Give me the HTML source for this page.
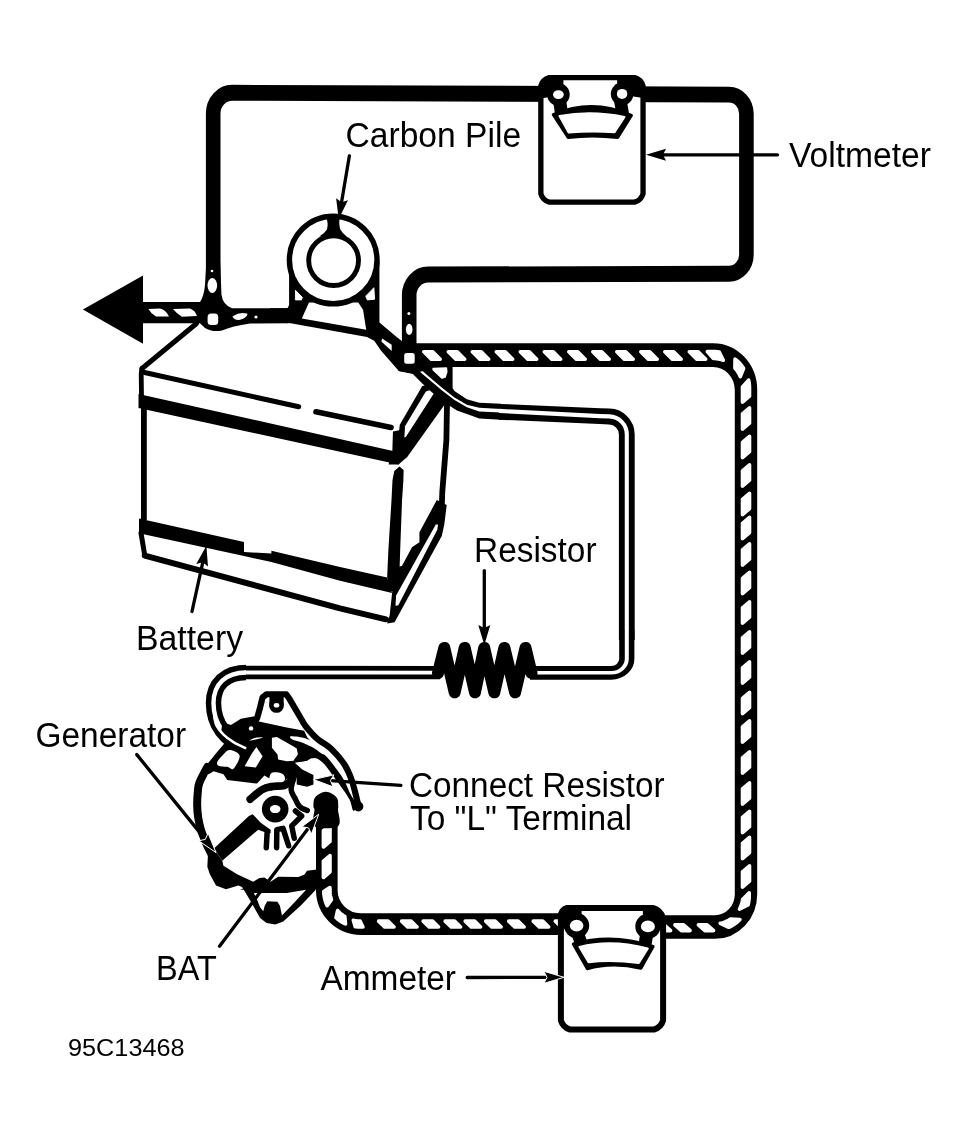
<!DOCTYPE html>
<html lang="en">
<head>
<meta charset="utf-8">
<title>Generator output test connections</title>
<style>
html,body{margin:0;padding:0;background:#fff;}
body{width:967px;height:1132px;overflow:hidden;}
svg{display:block;}
text{font-family:"Liberation Sans",sans-serif;fill:#000;}
.k{fill:#000;stroke:none;}
.w{fill:#fff;stroke:none;}
.l{fill:none;stroke:#000;stroke-linecap:round;stroke-linejoin:round;}
.lb{fill:none;stroke:#000;stroke-linecap:butt;stroke-linejoin:round;}
.lw{fill:none;stroke:#fff;stroke-linecap:round;stroke-linejoin:round;}
.wk{fill:#fff;stroke:#000;stroke-linejoin:round;}
.ws{fill:#fff;stroke:#fff;stroke-linejoin:round;stroke-linecap:round;}
</style>
</head>
<body>
<svg width="967" height="1132" viewBox="0 0 967 1132" shape-rendering="geometricPrecision">
<rect x="0" y="0" width="967" height="1132" fill="#fff"/>
<g id="labels" style="filter:grayscale(1)">
<text x="345.5" y="147.3" font-size="34.2" textLength="175.57" lengthAdjust="spacingAndGlyphs">Carbon Pile</text>
<text x="789" y="167.2" font-size="34.2" textLength="142.01" lengthAdjust="spacingAndGlyphs">Voltmeter</text>
<text x="474" y="562.2" font-size="34.2" textLength="122.6" lengthAdjust="spacingAndGlyphs">Resistor</text>
<text x="136" y="650.3" font-size="34.2" textLength="107.06" lengthAdjust="spacingAndGlyphs">Battery</text>
<text x="35.5" y="747.1" font-size="34.2" textLength="150.56" lengthAdjust="spacingAndGlyphs">Generator</text>
<text x="409" y="796.5" font-size="34.2" textLength="255.52" lengthAdjust="spacingAndGlyphs">Connect Resistor</text>
<text x="410" y="830" font-size="34.2" textLength="222.04" lengthAdjust="spacingAndGlyphs">To &quot;L&quot; Terminal</text>
<text x="156" y="980" font-size="34.2" textLength="60.7" lengthAdjust="spacingAndGlyphs">BAT</text>
<text x="320.5" y="989.6" font-size="34.2" textLength="135.5" lengthAdjust="spacingAndGlyphs">Ammeter</text>
<text x="68" y="1056.2" font-size="24.4" textLength="116.58" lengthAdjust="spacingAndGlyphs">95C13468</text>
</g>
<g id="black-wire">
<path class="lb" transform="scale(1,1.09)" stroke-width="14.6" d="M213.2 275.23 L213.2 104.11 A19 19 0 0 1 232.27 85.11 L728.96 86.82 A17.5 17.5 0 0 1 746.4 104.32 L746.4 233.64 A17.5 17.5 0 0 1 728.94 251.14 L428.15 251.88 A19 19 0 0 0 409.2 270.88 L409.2 321.1"/>
</g>
<g id="striped-wire">
<path class="lb" transform="scale(1,1.06)" stroke-width="22.4" d="M404 334.91 L713 334.91 A33 33 0 0 1 746 367.91 L746 843.53 A31 31 0 0 1 715 874.53 L640 874.53"/>
<path class="ws" stroke-width="3.6" d="M431.3 359.2 L432.78 359.2 L434.27 359.2 L435.75 359.2 L437.23 359.2 L438.72 359.2 L440.2 359.2 L432.7 351.8 L431.22 351.8 L429.73 351.8 L428.25 351.8 L426.77 351.8 L425.28 351.8 L423.8 351.8Z M455.8 359.2 L457.28 359.2 L458.77 359.2 L460.25 359.2 L461.73 359.2 L463.22 359.2 L464.7 359.2 L457.2 351.8 L455.72 351.8 L454.23 351.8 L452.75 351.8 L451.27 351.8 L449.78 351.8 L448.3 351.8Z M479.8 359.2 L481.28 359.2 L482.77 359.2 L484.25 359.2 L485.73 359.2 L487.22 359.2 L488.7 359.2 L481.2 351.8 L479.72 351.8 L478.23 351.8 L476.75 351.8 L475.27 351.8 L473.78 351.8 L472.3 351.8Z M503.8 359.2 L505.28 359.2 L506.77 359.2 L508.25 359.2 L509.73 359.2 L511.22 359.2 L512.7 359.2 L505.2 351.8 L503.72 351.8 L502.23 351.8 L500.75 351.8 L499.27 351.8 L497.78 351.8 L496.3 351.8Z M527.8 359.2 L529.28 359.2 L530.77 359.2 L532.25 359.2 L533.73 359.2 L535.22 359.2 L536.7 359.2 L529.2 351.8 L527.72 351.8 L526.23 351.8 L524.75 351.8 L523.27 351.8 L521.78 351.8 L520.3 351.8Z M551.8 359.2 L553.28 359.2 L554.77 359.2 L556.25 359.2 L557.73 359.2 L559.22 359.2 L560.7 359.2 L553.2 351.8 L551.72 351.8 L550.23 351.8 L548.75 351.8 L547.27 351.8 L545.78 351.8 L544.3 351.8Z M576.3 359.2 L577.78 359.2 L579.27 359.2 L580.75 359.2 L582.23 359.2 L583.72 359.2 L585.2 359.2 L577.7 351.8 L576.22 351.8 L574.73 351.8 L573.25 351.8 L571.77 351.8 L570.28 351.8 L568.8 351.8Z M600.3 359.2 L601.78 359.2 L603.27 359.2 L604.75 359.2 L606.23 359.2 L607.72 359.2 L609.2 359.2 L601.7 351.8 L600.22 351.8 L598.73 351.8 L597.25 351.8 L595.77 351.8 L594.28 351.8 L592.8 351.8Z M624.3 359.2 L625.78 359.2 L627.27 359.2 L628.75 359.2 L630.23 359.2 L631.72 359.2 L633.2 359.2 L625.7 351.8 L624.22 351.8 L622.73 351.8 L621.25 351.8 L619.77 351.8 L618.28 351.8 L616.8 351.8Z M648.3 359.2 L649.78 359.2 L651.27 359.2 L652.75 359.2 L654.23 359.2 L655.72 359.2 L657.2 359.2 L649.7 351.8 L648.22 351.8 L646.73 351.8 L645.25 351.8 L643.77 351.8 L642.28 351.8 L640.8 351.8Z M672.3 359.2 L673.78 359.2 L675.27 359.2 L676.75 359.2 L678.23 359.2 L679.72 359.2 L681.2 359.2 L673.7 351.8 L672.22 351.8 L670.73 351.8 L669.25 351.8 L667.77 351.8 L666.28 351.8 L664.8 351.8Z M696.8 359.2 L698.28 359.2 L699.77 359.2 L701.25 359.2 L702.73 359.2 L704.22 359.2 L705.7 359.2 L698.2 351.8 L696.72 351.8 L695.23 351.8 L693.75 351.8 L692.27 351.8 L690.78 351.8 L689.3 351.8Z M713.27 358.4 L714.98 358.47 L716.67 358.63 L718.39 358.9 L720.05 359.25 L721.68 359.7 L723.28 360.24 L719.28 352.15 L717.2 351.84 L715.1 351.66 L713.07 351.6 L711.12 351.6 L709.22 351.6 L707.32 351.6Z M734.91 368.1 L736.01 369.38 L737.04 370.73 L738.01 372.18 L738.88 373.63 L739.66 375.13 L740.35 376.68 L743.57 368.24 L742.38 366.51 L741.08 364.84 L739.73 363.29 L738.26 361.79 L736.7 360.37 L735.06 359.05Z M742.48 386.93 L742.5 389.37 L742.5 391.93 L742.5 394.5 L742.5 397.07 L742.5 399.63 L742.5 402.2 L749.5 396.2 L749.5 393.63 L749.5 391.07 L749.5 388.49 L749.43 385.69 L749.14 382.88 L748.63 380.09Z M742.5 413.8 L742.5 416.37 L742.5 418.93 L742.5 421.5 L742.5 424.07 L742.5 426.63 L742.5 429.2 L749.5 423.2 L749.5 420.63 L749.5 418.07 L749.5 415.5 L749.5 412.93 L749.5 410.37 L749.5 407.8Z M742.5 442.3 L742.5 444.87 L742.5 447.43 L742.5 450 L742.5 452.57 L742.5 455.13 L742.5 457.7 L749.5 451.7 L749.5 449.13 L749.5 446.57 L749.5 444 L749.5 441.43 L749.5 438.87 L749.5 436.3Z M742.5 470.8 L742.5 473.37 L742.5 475.93 L742.5 478.5 L742.5 481.07 L742.5 483.63 L742.5 486.2 L749.5 480.2 L749.5 477.63 L749.5 475.07 L749.5 472.5 L749.5 469.93 L749.5 467.37 L749.5 464.8Z M742.5 499.3 L742.5 501.87 L742.5 504.43 L742.5 507 L742.5 509.57 L742.5 512.13 L742.5 514.7 L749.5 508.7 L749.5 506.13 L749.5 503.57 L749.5 501 L749.5 498.43 L749.5 495.87 L749.5 493.3Z M742.5 523.3 L742.5 525.87 L742.5 528.43 L742.5 531 L742.5 533.57 L742.5 536.13 L742.5 538.7 L749.5 532.7 L749.5 530.13 L749.5 527.57 L749.5 525 L749.5 522.43 L749.5 519.87 L749.5 517.3Z M742.5 549.8 L742.5 552.37 L742.5 554.93 L742.5 557.5 L742.5 560.07 L742.5 562.63 L742.5 565.2 L749.5 559.2 L749.5 556.63 L749.5 554.07 L749.5 551.5 L749.5 548.93 L749.5 546.37 L749.5 543.8Z M742.5 578.3 L742.5 580.87 L742.5 583.43 L742.5 586 L742.5 588.57 L742.5 591.13 L742.5 593.7 L749.5 587.7 L749.5 585.13 L749.5 582.57 L749.5 580 L749.5 577.43 L749.5 574.87 L749.5 572.3Z M742.5 607.8 L742.5 610.37 L742.5 612.93 L742.5 615.5 L742.5 618.07 L742.5 620.63 L742.5 623.2 L749.5 617.2 L749.5 614.63 L749.5 612.07 L749.5 609.5 L749.5 606.93 L749.5 604.37 L749.5 601.8Z M742.5 637.8 L742.5 640.37 L742.5 642.93 L742.5 645.5 L742.5 648.07 L742.5 650.63 L742.5 653.2 L749.5 647.2 L749.5 644.63 L749.5 642.07 L749.5 639.5 L749.5 636.93 L749.5 634.37 L749.5 631.8Z M742.5 667.8 L742.5 670.37 L742.5 672.93 L742.5 675.5 L742.5 678.07 L742.5 680.63 L742.5 683.2 L749.5 677.2 L749.5 674.63 L749.5 672.07 L749.5 669.5 L749.5 666.93 L749.5 664.37 L749.5 661.8Z M742.5 698.3 L742.5 700.87 L742.5 703.43 L742.5 706 L742.5 708.57 L742.5 711.13 L742.5 713.7 L749.5 707.7 L749.5 705.13 L749.5 702.57 L749.5 700 L749.5 697.43 L749.5 694.87 L749.5 692.3Z M742.5 726.8 L742.5 729.37 L742.5 731.93 L742.5 734.5 L742.5 737.07 L742.5 739.63 L742.5 742.2 L749.5 736.2 L749.5 733.63 L749.5 731.07 L749.5 728.5 L749.5 725.93 L749.5 723.37 L749.5 720.8Z M742.5 757.8 L742.5 760.37 L742.5 762.93 L742.5 765.5 L742.5 768.07 L742.5 770.63 L742.5 773.2 L749.5 767.2 L749.5 764.63 L749.5 762.07 L749.5 759.5 L749.5 756.93 L749.5 754.37 L749.5 751.8Z M742.5 788.8 L742.5 791.37 L742.5 793.93 L742.5 796.5 L742.5 799.07 L742.5 801.63 L742.5 804.2 L749.5 798.2 L749.5 795.63 L749.5 793.07 L749.5 790.5 L749.5 787.93 L749.5 785.37 L749.5 782.8Z M742.5 817.3 L742.5 819.87 L742.5 822.43 L742.5 825 L742.5 827.57 L742.5 830.13 L742.5 832.7 L749.5 826.7 L749.5 824.13 L749.5 821.57 L749.5 819 L749.5 816.43 L749.5 813.87 L749.5 811.3Z M742.5 843.3 L742.5 845.87 L742.5 848.43 L742.5 851 L742.5 853.57 L742.5 856.13 L742.5 858.7 L749.5 852.7 L749.5 850.13 L749.5 847.57 L749.5 845 L749.5 842.43 L749.5 839.87 L749.5 837.3Z M742.5 871.8 L742.5 874.37 L742.5 876.93 L742.5 879.5 L742.5 882.07 L742.5 884.63 L742.5 887.2 L749.5 881.2 L749.5 878.63 L749.5 876.07 L749.5 873.5 L749.5 870.93 L749.5 868.37 L749.5 865.8Z M742.59 899.43 L742.33 901.1 L741.97 902.75 L741.49 904.43 L740.93 906.03 L740.27 907.59 L739.52 909.1 L748 904.97 L748.49 902.92 L748.85 900.85 L749.08 898.81 L749.19 896.71 L749.2 894.72 L749.2 892.82Z M730.44 919.12 L728.86 920.1 L727.22 920.97 L725.52 921.73 L723.83 922.36 L722.05 922.89 L720.23 923.3 L728.78 927.3 L730.83 926.32 L732.81 925.2 L734.71 923.95 L736.56 922.55 L738.28 921.05 L739.89 919.45Z M707.1 924.8 L705.65 924.8 L704.2 924.8 L702.75 924.8 L701.3 924.8 L699.85 924.8 L698.4 924.8 L704.9 930.6 L706.35 930.6 L707.8 930.6 L709.25 930.6 L710.7 930.6 L712.15 930.6 L713.6 930.6Z M683.6 924.8 L682.15 924.8 L680.7 924.8 L679.25 924.8 L677.8 924.8 L676.35 924.8 L674.9 924.8 L681.4 930.6 L682.85 930.6 L684.3 930.6 L685.75 930.6 L687.2 930.6 L688.65 930.6 L690.1 930.6Z M664.1 924.8 L662.65 924.8 L661.2 924.8 L659.75 924.8 L658.3 924.8 L656.85 924.8 L655.4 924.8 L661.9 930.6 L663.35 930.6 L664.8 930.6 L666.25 930.6 L667.7 930.6 L669.15 930.6 L670.6 930.6Z"/>
<path class="lb" stroke-width="21.6" d="M580 924.1 L360.8 924.1 A34 34 0 0 1 326.8 890.1 L326.8 800"/>
<path class="ws" stroke-width="3.6" d="M388.02 921.15 L386.46 921.15 L384.89 921.15 L383.32 921.15 L381.76 921.15 L380.19 921.15 L378.62 921.15 L384.62 927.05 L386.19 927.05 L387.76 927.05 L389.32 927.05 L390.89 927.05 L392.46 927.05 L394.02 927.05Z M411.04 921.15 L409.48 921.15 L407.91 921.15 L406.34 921.15 L404.78 921.15 L403.21 921.15 L401.64 921.15 L407.64 927.05 L409.21 927.05 L410.78 927.05 L412.34 927.05 L413.91 927.05 L415.48 927.05 L417.04 927.05Z M432.56 921.15 L431 921.15 L429.43 921.15 L427.86 921.15 L426.3 921.15 L424.73 921.15 L423.16 921.15 L429.16 927.05 L430.73 927.05 L432.3 927.05 L433.86 927.05 L435.43 927.05 L437 927.05 L438.56 927.05Z M454.58 921.15 L453.02 921.15 L451.45 921.15 L449.88 921.15 L448.32 921.15 L446.75 921.15 L445.18 921.15 L451.18 927.05 L452.75 927.05 L454.32 927.05 L455.88 927.05 L457.45 927.05 L459.02 927.05 L460.58 927.05Z M474.6 921.15 L473.04 921.15 L471.47 921.15 L469.9 921.15 L468.34 921.15 L466.77 921.15 L465.2 921.15 L471.2 927.05 L472.77 927.05 L474.34 927.05 L475.9 927.05 L477.47 927.05 L479.04 927.05 L480.6 927.05Z M495.12 921.15 L493.55 921.15 L491.99 921.15 L490.42 921.15 L488.85 921.15 L487.29 921.15 L485.72 921.15 L491.72 927.05 L493.29 927.05 L494.85 927.05 L496.42 927.05 L497.99 927.05 L499.55 927.05 L501.12 927.05Z M518.14 921.15 L516.58 921.15 L515.01 921.15 L513.44 921.15 L511.88 921.15 L510.31 921.15 L508.74 921.15 L514.74 927.05 L516.31 927.05 L517.88 927.05 L519.44 927.05 L521.01 927.05 L522.58 927.05 L524.14 927.05Z M542.66 921.15 L541.1 921.15 L539.53 921.15 L537.96 921.15 L536.4 921.15 L534.83 921.15 L533.26 921.15 L539.26 927.05 L540.83 927.05 L542.4 927.05 L543.96 927.05 L545.53 927.05 L547.1 927.05 L548.66 927.05Z M564.68 921.15 L563.12 921.15 L561.55 921.15 L559.98 921.15 L558.42 921.15 L556.85 921.15 L555.28 921.15 L561.28 927.05 L562.85 927.05 L564.42 927.05 L565.98 927.05 L567.55 927.05 L569.12 927.05 L570.68 927.05Z M360.05 921.14 L358.94 921.09 L357.8 921 L356.66 920.87 L355.57 920.71 L354.45 920.49 L353.37 920.25 L355.14 926.61 L356.49 926.8 L357.81 926.93 L359.12 927.01 L360.47 927.05 L361.74 927.05 L362.98 927.05Z M344.83 916.55 L343.52 915.72 L342.22 914.79 L340.97 913.8 L339.81 912.77 L338.67 911.66 L337.61 910.52 L336.02 917.71 L337.48 918.95 L338.96 920.09 L340.5 921.15 L342.13 922.16 L343.77 923.06 L345.5 923.9Z M331.43 899.7 L330.87 897.77 L330.43 895.77 L330.12 893.75 L329.95 891.75 L329.9 889.66 L329.9 887.45 L323.73 891.56 L323.91 894.02 L324.24 896.41 L324.73 898.78 L325.38 901.15 L326.18 903.43 L327.14 905.7Z M330 871.97 L330 869.24 L330 866.51 L330 863.77 L330 861.04 L330 858.31 L330 855.57 L323.4 861.17 L323.4 863.91 L323.4 866.64 L323.4 869.37 L323.4 872.11 L323.4 874.84 L323.4 877.57Z M330 841.44 L330 838.71 L330 835.97 L330 833.24 L330 830.51 L330 827.77 L330 825.04 L323.4 830.64 L323.4 833.37 L323.4 836.11 L323.4 838.84 L323.4 841.57 L323.4 844.31 L323.4 847.04Z"/>
</g>
<g id="resistor-wire">
<path class="k" d="M398.62 366.91 L452.6 366.91 L452.6 388.26 L454.46 391.11 L466.87 399.18 L479.28 402.65 L501 403.77 L501 419.65 L479.28 418.54 L466.87 414.07 L456.94 410.59 L449.5 405.63 L435.85 394.46 L422.81 383.91 L412.89 373.98 L398.62 370.88Z"/>
<path class="w" d="M420.33 371.5 L422.81 371.13 L429.64 377.33 L442.05 387.63 L454.46 397.56 L466.87 404.76 L479.28 407.86 L501 408.98 L501 412.58 L479.28 411.59 L466.87 407.24 L454.46 400.04 L442.05 390.49 L429.64 380.06 L420.95 372.74Z"/>
<path class="ws" stroke-width="1.5" d="M433.11 368.4 L446.39 367.9 L446.77 372.12 L445.15 377.09 L442.05 378.08 L433.11 369.64Z"/>
<path class="lb" stroke-width="15.8" d="M499 411.8 L600 416.2 L609.34 416.48 A18 18 0 0 1 626.8 434.47 L626.8 640"/>
<path class="lw" style="stroke-linecap:butt" stroke-width="4.1" d="M499 410.9 L600 416.1 L609.4 416.42 A18 18 0 0 1 626.8 434.41 L626.8 640"/>
<g transform="scale(1,0.9)"><path class="lb" stroke-width="15.2" d="M626.8 700 L626.8 732.06 A15.5 15.5 0 0 1 611.3 747.56 L530 747.56"/><path class="lw" style="stroke-linecap:butt" stroke-width="4" d="M626.8 700 L626.8 732.06 A15.5 15.5 0 0 1 611.3 747.56 L530 747.56"/></g>
<path class="lb" stroke-width="15.4" d="M246 672.5 C226 672.5 213.5 684 213.5 703 C213.5 725 226 740 248 750"/>
<path class="lb" stroke-width="13.4" d="M440 672.6 L238 672.5"/>
<path class="lw" style="stroke-linecap:butt" stroke-width="4.4" d="M246 672.5 C226 672.5 213.5 684 213.5 703 C213.5 725 226 740 248 750"/>
<path class="lw" style="stroke-linecap:butt" stroke-width="3.8" d="M440 672.6 L244 672.5"/>
<path class="l" stroke-width="12" d="M438 673 L444.3 647.9 L454.7 692.3 L464.7 647.9 L475 692.3 L484.2 647.9 L494.3 692.3 L504.4 647.9 L515.1 692.3 L525.5 647.9 L531.5 673"/>
</g>
<g id="voltmeter">
<path class="wk" stroke-width="5.3" d="M549.26 77.55 L634.64 77.55 Q641.16 79.44 643.05 85.96 L643.05 193.74 Q641.16 200.26 634.64 202.15 L549.26 202.15 Q542.74 200.26 540.85 193.74 L540.85 85.96 Q542.74 79.44 549.26 77.55Z"/>
<path class="k" d="M540.85 85.96 L549.26 77.55 L563.4 77.55 L563.4 94.6 L540.85 98.6Z"/>
<path class="k" d="M643.05 85.96 L634.64 77.55 L617.1 77.55 L617.1 93.9 L643.05 97.9Z"/>
<circle class="k" cx="558.4" cy="94.6" r="11.3"/>
<circle class="k" cx="622.1" cy="93.9" r="11.3"/>
<path class="k" d="M553.4 102.9 L566.4 101.9 L568.2 114.5 L555.2 115.5Z"/>
<path class="k" d="M627.1 102.2 L614.1 101.2 L616.5 115.3 L629.5 116.3Z"/>
<path class="k" style="stroke:#000;stroke-width:3;stroke-linejoin:round" d="M553.3 114.6 Q592.2 98.2 631.4 115.4 L617.7 137.5 Q592.2 134.3 568.1 137.5Z"/>
<path class="ws" stroke-width="2" d="M559.5 116 Q591.1 109.95 624.5 116.9 L614.6 132.2 Q591.1 130.65 568.6 132.5Z"/>
<ellipse class="w" cx="558.4" cy="94.6" rx="5.4" ry="4.4"/>
<ellipse class="w" cx="622.1" cy="93.9" rx="5.2" ry="5"/>
</g>
<g id="ammeter">
<path class="wk" stroke-width="6.0" d="M567.1 907.9 L652.9 907.9 Q660.81 910.2 663.1 918.1 L663.1 1020.4 Q661.03 1027.53 653.9 1029.6 L570.1 1029.6 Q562.97 1027.53 560.9 1020.4 L560.9 914.1 Q562.3 909.3 567.1 907.9Z"/>
<path class="k" d="M560.9 914.1 L567.1 907.9 L581.6 907.9 L581.6 925.6 L560.9 929.6Z"/>
<path class="k" d="M663.1 918.1 L652.9 907.9 L642.9 907.9 L642.9 926.4 L663.1 930.4Z"/>
<circle class="k" cx="576.6" cy="925.6" r="12.6"/>
<circle class="k" cx="647.9" cy="926.4" r="12.6"/>
<path class="k" d="M571.6 935.2 L584.6 934.2 L588.2 943.9 L575.2 944.9Z"/>
<path class="k" d="M652.9 936 L639.9 935 L638.2 946.4 L651.2 947.4Z"/>
<path class="k" style="stroke:#000;stroke-width:3;stroke-linejoin:round" d="M573.3 944 Q612.2 932.95 653.1 946.5 L640.9 968.3 Q612.2 961.45 587.3 968.8Z"/>
<path class="ws" stroke-width="2" d="M579.5 946.9 Q611.1 938.7 647.8 948.5 L638.8 963 Q611.1 959.2 588.6 962.2Z"/>
<ellipse class="w" cx="576.6" cy="925.6" rx="6.8" ry="5.8"/>
<ellipse class="w" cx="647.9" cy="926.4" rx="7" ry="5.8"/>
</g>
<g id="arrow">
<path class="k" d="M82.9 309.6 L143 275.6 L143 302.1 L205 302.1 L205 323.2 L143 323.2 L143 343.8Z"/>
<path class="w" d="M148.5 309 L160 308.6 Q166 310 169 316.5 L156 316.6 Q151 314 148.5 309Z"/>
<path class="w" d="M173 309 L190 308.6 Q195 310.5 197 316 L182 316.8 Q177 314 173 309Z"/>
</g>
<g id="junction">
<path class="k" d="M206.4 262 L220.1 262 L221.5 295 Q223 305 232 308.3 L288 308.3 L288 323.3 L250 323.5 Q232 326 222 330.5 Q212 332.5 205 328 L200 323.2 L200 302.1 Q204 296 205 285Z"/>
<ellipse class="w" cx="212.3" cy="285.5" rx="4.8" ry="7.6"/>
<circle class="w" cx="212" cy="271" r="1.3"/>
<rect class="w" x="207.6" y="313.5" width="10.6" height="11.5" rx="3.5"/>
<path class="w" d="M232.5 316.5 Q240 311.5 247.5 313.8 Q247 318 240 319.8 Q234 320.5 232.5 316.5Z"/>
<circle class="w" cx="256" cy="317" r="1.6"/>
</g>
<g id="carbon-pile">
<path class="k" d="M289.09 260.44 L379.43 260.44 L379.43 322.47 L397.25 337.59 L406.79 344.74 L413.15 359.06 L413.15 373.37 L398.84 370.99 L381.34 351.11 L374.18 340.77 L367.03 337.11 L290.68 323.27 L270 322.47 L270 308.16 L287.5 308.16 L289.09 304.98Z"/>
<path class="w" d="M308.97 302.59 L358.28 302.59 L363.05 309.75 L366.23 329.63 L301.81 318.5Z"/>
<circle class="wk" cx="333.2" cy="260.0" r="43.8" stroke-width="5.4"/>
<path class="ws" stroke-width="1" d="M295.77 290.66 L302.29 297.34 L301.49 299.89 L295.77 299.89Z"/>
<path class="ws" stroke-width="1" d="M373.87 288.12 L374.5 299.25 L367.34 299.89 L365.91 296.39Z"/>
<circle class="wk" cx="333.6" cy="260.6" r="24.9" stroke-width="4.9"/>
<path class="k" d="M325.67 215.11 L339.99 215.11 Q338.4 223.86 340.3 229.43 Q342.37 232.93 346.67 236.58 L319.31 236.58 Q324.88 232.93 326.94 229.43 Q328.85 223.86 325.67 215.11Z"/>
<path class="w" d="M382.14 338.38 L391.68 344.74 L391.68 351.11 L381.34 341.56Z"/>
</g>
<g id="junction-neg">
<rect class="w" x="404.2" y="352.9" width="10.5" height="10.8" rx="2.5"/>
<ellipse class="w" cx="409.2" cy="329.4" rx="3.3" ry="5.6"/>
<circle class="w" cx="408.9" cy="313.4" r="1.5"/>
</g>
<g id="battery">
<path class="l" style="stroke-linecap:round" stroke-width="5" d="M196.5 323.5 L142 368.5"/>
<path class="l" style="stroke-linecap:round" stroke-width="4.8" d="M141.8 368.5 L141.2 374 L141.5 396"/>
<path class="l" style="stroke-linecap:butt" stroke-width="5.8" d="M143.9 396 L143.9 520"/>
<path class="l" style="stroke-linecap:round" stroke-width="5" d="M142.3 372 L298.7 406.8"/>
<path class="l" style="stroke-linecap:round" stroke-width="5.6" d="M316 411.8 L391 427.5"/>
<path class="k" d="M138.5 394 L393 451 L398.5 464.4 L138.5 408Z"/>
<path class="k" d="M392.96 431.5 L399.16 430.26 L399.78 424.68 L422.12 386.21 L428.33 383.72 L437.01 389.93 L447.56 401.1 L444.46 404.82 L407.23 456.94 L398.54 464.39 L388.62 464.39 L392.34 450.74Z"/>
<path class="w" d="M405 426.17 L425.85 391.42 L429.57 390.18 L433.66 393.65 L405.99 436.84 L404.38 437.46Z"/>
<path class="l" style="stroke-linecap:butt" stroke-width="5.8" d="M447 403 L446.4 440 L442.3 492 L441.8 506"/>
<path class="k" d="M394.3 471 L399.5 466.5 L403.6 470 L403.4 480 L402.05 500 L400.19 549.64 L399.57 569.5 L398.33 589.35 L389.64 591.83 L387.16 576.94 L388.4 549.64 L391.5 500 L392.5 480Z"/>
<path class="k" d="M139 518.4 L244 542 L244 552 L271.4 553.5 L271.4 550.7 L340 567.01 L387.16 577.56 L392.12 593.08 L340 580.67 L271.4 562 L244 556 L139 533.3Z"/>
<path class="l" style="stroke-linecap:round" stroke-width="5" d="M141 533 L144.8 555.6"/>
<path class="l" style="stroke-linecap:round" stroke-width="6" d="M144.8 555.6 L340 608.3 L386 619.3"/>
<path class="k" d="M436.8 500 L446.73 504.96 L444.24 524.82 L441.76 535.99 L394.6 622.24 L387.16 623.48 L389.64 615.41 L392.12 593.08 L393.36 574.46 L398.33 567.01 L402.05 565.77 L411.98 547.16 L419.42 542.19 L419.42 532.27Z"/>
<path class="w" d="M435.81 524.57 L438.04 524.45 L437.29 529.78 L398.33 605.24 L395.47 605.86 L396.09 595.56Z"/>
</g>
<g id="generator">
<path class="k" d="M222.51 722.19 L230.95 724.92 L240.88 718.72 L254.53 716.24 L258.88 721.57 L286.8 727.41 L304.17 730.63 L307.23 737.23 L322.12 754.6 L312.19 752.12 L307.23 760.81 L294.82 762.67 L302.27 769.5 L313.44 775.08 L313.44 784.39 L307.23 786.87 L296.68 784.39 L296.68 774.46 L286.13 779.42 L282.41 786.87 L270 791.21 L276.87 783 L264.46 775.56 L257.01 783.62 L227.23 779.9 L223.51 774.32 L213.58 771.21 L208.62 774.32 L203.65 771.83 L206.13 765.63 L216.06 753.22 L223.51 744.53 L227.23 738.33 L221.03 732.12Z"/>
<path class="w" d="M229.71 750.12 C232.61 750.12 239.02 752.6 239.64 755.7 C240.26 758.8 235.5 766.87 233.44 768.73 C231.37 770.59 229.71 767.39 227.23 766.87 C224.75 766.35 220.2 766.46 218.54 765.63 C216.89 764.8 216.68 763.56 217.3 761.91 C217.92 760.25 220.2 757.67 222.27 755.7 C224.33 753.74 226.82 750.12 229.71 750.12Z"/>
<path class="w" d="M256.39 747.01 L262.6 756.32 L255.77 767.49 L244.6 766.25 L252.05 753.22Z"/>
<path class="w" d="M271.91 737.71 L276.87 737.09 L296.73 748.26 L297.97 754.46 L294.24 760.67 L286.8 761.29 L278.11 759.42 L277.49 754.46 L271.91 747.63Z"/>
<circle class="w" cx="251.06" cy="728.4" r="2.2"/>
<path class="w" d="M249.32 740.56 C249.11 740.29 253.46 738.24 255.77 737.71 C258.09 737.17 263.01 737.07 263.22 737.33 C263.43 737.6 259.33 738.78 257.01 739.32 C254.7 739.86 249.53 740.83 249.32 740.56Z"/>
<path class="w" d="M271.24 773.22 C273.1 771.52 278.89 772.5 281.17 773.22 C283.44 773.94 284.69 776.01 284.89 777.56 C285.1 779.11 284.89 781.55 282.41 782.53 C279.93 783.5 271.86 784.95 270 783.4 C268.14 781.84 269.38 774.92 271.24 773.22Z"/>
<path class="l" stroke-width="6.2" d="M257.01 718.47 L260.12 707.3 L262.6 697.37 L266.32 694.27 L286.18 694.27 L289.28 698.62 L301.69 719.71 C302.3 720.73 302.96 722.79 305.37 725.81 C307.78 728.84 311.72 733.88 316.17 737.85 C320.61 741.82 327.33 745.19 332.05 749.64 C336.77 754.09 341.15 759.36 344.46 764.53 C347.77 769.7 349.84 774.87 351.91 780.67 C353.97 786.46 355.79 795.04 356.87 799.28 C357.95 803.52 358.11 804.97 358.36 806.11"/>
<path class="k" d="M269.42 692.41 L283.7 692.41 L283.7 704.82 L269.42 704.82Z"/>
<circle class="k" cx="358.36" cy="806.48" r="5"/>
<circle class="k" cx="276.5" cy="705.44" r="7.4"/>
<ellipse class="w" cx="276.5" cy="705.19" rx="2.8" ry="2.3"/>
<path class="k" d="M289.86 736.73 C291.72 736.36 297.1 738.28 301.03 739.96 C304.95 741.64 309.3 744.1 313.44 746.79 C317.57 749.47 321.92 752.27 325.85 756.09 C329.77 759.92 333.91 765.61 337.01 769.74 C340.12 773.88 342.18 776.78 344.46 780.91 C346.74 785.05 348.6 790.47 350.67 794.56 C352.73 798.66 356.46 802.84 356.87 805.49 C357.28 808.13 354.39 811.48 353.15 810.45 C351.91 809.42 351.7 803.62 349.42 799.28 C347.15 794.94 342.39 788.52 339.5 784.39 C336.6 780.25 334.53 777.77 332.05 774.46 C329.57 771.15 327.09 767.18 324.6 764.53 C322.12 761.88 319.33 759.61 317.16 758.58 C314.99 757.54 313.44 757.95 311.57 758.33 C309.71 758.7 308.78 760.19 305.99 760.81 C303.2 761.43 296.78 762.26 294.82 762.05 C292.86 761.84 293.68 760.81 294.2 759.57 C294.72 758.33 297.3 756.26 297.92 754.6 C298.54 752.95 299.27 751.71 297.92 749.64 C296.58 747.57 291.2 744.35 289.86 742.19 C288.51 740.04 287.99 737.11 289.86 736.73Z"/>
<path class="w" d="M290.93 736.26 C293.17 736.08 301.1 736.95 305.82 738.53 C310.54 740.12 315.82 743.39 319.27 745.77 C322.71 748.15 325.99 751.42 326.5 752.8 C327.02 754.18 324.44 754.8 322.37 754.04 C320.3 753.29 317.37 750.15 314.1 748.25 C310.82 746.36 306.34 744.12 302.72 742.67 C299.1 741.22 294.34 740.63 292.38 739.57 C290.41 738.5 288.69 736.43 290.93 736.26Z"/>
<circle class="k" cx="275.2" cy="809.1" r="13.3"/>
<ellipse class="w" cx="275.2" cy="809.1" rx="5.3" ry="4"/>
<path class="l" style="stroke-linecap:round" stroke-width="7.6" d="M250.15 799.24 C252.12 797.64 258.32 791.81 261.94 789.68 C265.56 787.55 268.15 787.14 271.87 786.45 C275.59 785.77 280.97 786.66 284.28 785.58 C287.59 784.51 290.49 780.93 291.73 780"/>
<path class="l" style="stroke-linecap:round" stroke-width="5.5" d="M294.82 774.46 C294.2 776.94 291.1 785.42 291.1 789.35 C291.1 793.28 293.37 795.14 294.82 798.04 C296.27 800.93 297.72 804.66 299.78 806.73 C301.85 808.79 305.99 809.83 307.23 810.45"/>
<path class="k" d="M214.16 848.26 L248.91 815.99 L252.63 814.13 L260.7 822.81 L270.63 829.64 L270.63 833.36 L264.42 832.12 L258.22 829.64 L222.23 860.67Z"/>
<path class="l" style="stroke-linecap:round" stroke-width="5.5" d="M267.15 832.12 L266.29 847.63"/>
<path class="l" style="stroke-linecap:round" stroke-width="5.5" d="M276.59 847.63 L276.83 829.64 L283.04 828.4 L288.62 845.77"/>
<path class="l" style="stroke-linecap:round" stroke-width="5.5" d="M294.21 838.33 L291.73 825.92 L301.65 815.99 L295.45 811.03"/>
<path class="k" d="M207.96 854.46 L214.78 849.5 L222.23 860.67 L223.47 865.63 L237.12 874.32 L253.26 881.76 L259.46 878.04 L264.42 877.42 L270.63 881.76 L278.08 876.8 L298.33 877.01 L304.53 874.53 L307.01 870.81 L316.94 869.57 L316.94 889.42 L304.53 888.18 L287.16 892.53 L268.54 891.91 L240 889.42 L244.57 887.97 L238.36 885.49 L225.95 889.21 L216.03 885.49 L209.82 874.32 L207.34 866.87Z"/>
<path class="k" d="M241.26 885.42 L250.67 901.35 L260.08 918 L266.6 923.06 L275.29 924.51 L283.25 921.62 L301.35 904.97 L315.82 889.76 L310.03 885.42Z"/>
<path class="w" d="M253.86 892.95 L286.87 892.95 L306.12 889.76 L294.11 902.79 L281.95 915.53 L279.92 905.69 L277.46 901.64 L267.32 901.35 L264.72 905.69 L263.27 911.19 L260.08 907.14 L257.19 899.9Z"/>
<path class="l" style="stroke-linecap:round" stroke-width="8" d="M207.37 766.87 C206.03 769.56 200.91 778.75 199.31 783 C197.71 787.26 198.14 788.77 197.78 792.41 C197.42 796.05 197.1 800.68 197.16 804.82 C197.22 808.96 197.53 813.09 198.15 817.23 C198.78 821.37 199.46 825.09 200.88 829.64 C202.31 834.19 204.92 840.4 206.72 844.53 C208.52 848.67 210.85 852.81 211.68 854.46"/>
<path class="k" d="M314.46 826.13 C310.53 823.44 314.63 813.23 314.46 810 C314.29 806.77 313.4 808.72 313.44 806.73 C313.47 804.73 313.23 800.42 314.68 798.04 C316.12 795.66 319.64 793.39 322.12 792.45 C324.6 791.52 327.09 791.52 329.57 792.45 C332.05 793.39 335.57 795.66 337.01 798.04 C338.46 800.42 338.08 804.73 338.26 806.73 C338.43 808.72 338.08 806.77 338.04 810 C338 813.23 341.97 823.44 338.04 826.13 C334.11 828.82 318.39 828.82 314.46 826.13Z"/>
<path class="lw" stroke-width="2.6" d="M214.32 717.23 C214.72 718.68 215.15 723.02 216.68 725.92 C218.21 728.81 220.71 731.92 223.51 734.6 C226.3 737.29 229.82 739.82 233.44 742.05 C237.05 744.28 243.26 747.01 245.22 748.01"/>
</g>
<g id="leaders">
<path class="l" stroke-linecap="butt" stroke-width="3.3" d="M349.4 155.8 L341.54 202.24"/>
<path class="k" d="M338.7 219 L336.12 198.28 L341.54 202.24 L347.95 200.28Z"/>
<path class="l" stroke-linecap="butt" stroke-width="3.3" d="M777.5 154.8 L663 154.8"/>
<path class="k" d="M646 154.8 L666 148.8 L663 154.8 L666 160.8Z"/>
<path class="l" stroke-linecap="butt" stroke-width="3.3" d="M484.3 570.6 L484.3 628"/>
<path class="k" d="M484.3 645 L478.3 625 L484.3 628 L490.3 625Z"/>
<path class="l" stroke-linecap="butt" stroke-width="3.3" d="M192 611.5 L202.77 562.31"/>
<path class="k" d="M206.4 545.7 L207.99 566.52 L202.77 562.31 L196.26 563.95Z"/>
<path class="l" stroke-linecap="butt" stroke-width="3.3" d="M136.8 754.6 L205.31 839.38"/>
<path class="k" style="stroke:#fff;stroke-width:1" d="M216 852.6 L198.76 840.82 L205.31 839.38 L208.1 833.27Z"/>
<path class="l" stroke-linecap="butt" stroke-width="3.3" d="M400.9 785.3 L330.46 780.63"/>
<path class="k" style="stroke:#fff;stroke-width:1" d="M313.5 779.5 L333.85 774.84 L330.46 780.63 L333.06 786.81Z"/>
<path class="l" stroke-linecap="butt" stroke-width="3.3" d="M219.5 946.2 L308.48 827.89"/>
<path class="k" style="stroke:#fff;stroke-width:1" d="M318.7 814.3 L311.47 833.89 L308.48 827.89 L301.88 826.68Z"/>
<path class="l" stroke-linecap="butt" stroke-width="3.3" d="M467.2 977.5 L547 977.34"/>
<path class="k" style="stroke:#fff;stroke-width:1" d="M564 977.3 L544.01 983.34 L547 977.34 L543.99 971.34Z"/>
</g>
</svg>
</body>
</html>
